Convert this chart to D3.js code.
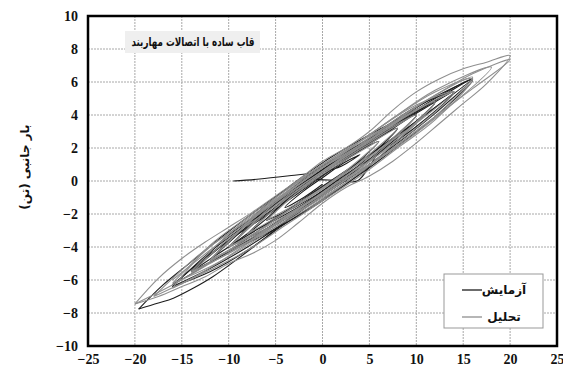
<!DOCTYPE html>
<html>
<head>
<meta charset="utf-8">
<script src="https://cdn.jsdelivr.net/npm/d3@7"></script>
<style>
  body { margin: 0; background: #fff; }
  #chart { width: 563px; height: 367px; }
</style>
</head>
<body>
<div id="chart"></div>
<script>
//Datos: desplazamiento (mm) vs carga lateral (ton)
const xTicks = [-25, -20, -15, -10, -5, 0, 5, 10, 15, 20, 25];
const yTicks = [-10, -8, -6, -4, -2, 0, 2, 4, 6, 8, 10];
const titleText = 'قاب ساده با اتصالات مهاربند';
const yLabel = 'بار جانبی (تن)';
const seriesNames = ['آزمایش', 'تحلیل'];

//Ensayo (negro), un array por ciclo
const testLoops = [
  [[-9.5, 0.0], [-6.7, 0.12], [-3, 0.35], [0, 0.55]],
  [[0, 0.55], [2, 0.9], [4, 1.6], [2, 1.0], [0, 0.2], [-2, -0.6], [-4, -1.6], [-2, -1.0], [0, -0.2]],
  [[-6, -2.4], [-3, -1.6], [0, -0.6], [3, 0.75], [6, 2.4], [3, 1.55], [0, 0.5], [-3, -0.75], [-6, -2.4]],
  [[-8, -3.2], [-4, -2.05], [0, -0.7], [4, 1.0], [8, 3.2], [4, 2.0], [0, 0.6], [-4, -1.1], [-8, -3.2]],
  [[-10, -4.0], [-6, -2.3], [-3, -0.6], [-2, 0.1], [0, 0.07], [2, 0.03], [3.7, 0.0], [6, 1.7], [10, 4.0], [5, 2.45], [0, 0.7], [-5, -1.4], [-10, -4.0]],
  [[-10, -4.0], [-5, -2.6], [0, -0.9], [5, 1.3], [10, 4.0], [5, 2.55], [0, 0.9], [-5, -1.25], [-10, -4.0]],
  [[-12, -4.8], [-6, -3.0], [0, -0.8], [6, 1.7], [12, 4.8], [6, 3.1], [0, 1.1], [-6, -1.45], [-12, -4.8]],
  [[-12, -4.8], [-6, -3.2], [0, -1.2], [6, 1.4], [12, 4.8], [6, 2.8], [0, 0.7], [-6, -1.75], [-12, -4.8]],
  [[-14, -5.5], [-10, -4.3], [-6, -2.9], [-2, -1.4], [2, 0.2], [6, 1.7], [10, 3.3], [14, 5.4], [10, 4.5], [6, 3.0], [2, 1.4], [-2, -0.1], [-6, -1.7], [-10, -3.3], [-14, -5.5]],
  [[-14, -5.5], [-10, -4.0], [-6, -2.6], [-2, -1.1], [2, 0.4], [6, 2.0], [10, 3.6], [14, 5.4], [10, 4.1], [6, 2.6], [2, 1.1], [-2, -0.4], [-6, -2.0], [-10, -3.6], [-14, -5.5]],
  [[-16, -6.4], [-12, -5.3], [-8, -4.0], [-4, -2.5], [0, -0.9], [4, 0.6], [8, 2.3], [12, 4.1], [16, 6.2], [12, 5.0], [8, 3.55], [4, 2.0], [0, 0.5], [-4, -1.0], [-8, -2.6], [-12, -4.3], [-16, -6.4]],
  [[-16, -6.3], [-11, -4.6], [-6, -2.7], [-1, -0.7], [4, 1.2], [9, 3.2], [16, 6.2], [9, 3.8], [4, 1.9], [-1, -0.1], [-6, -2.1], [-11, -4.0], [-16, -6.3]],
  [[-16, -6.4], [-12, -5.5], [-8, -4.2], [-4, -2.6], [0, -1.1], [4, 0.4], [8, 2.1], [12, 3.9], [16, 6.1], [12, 5.1], [8, 3.7], [4, 2.2], [0, 0.9], [-5, -0.95], [-8, -2.2], [-11, -3.5], [-14, -4.9], [-17, -6.3], [-19.6, -7.76]],
  [[-19.6, -7.76], [-17.5, -7.4], [-15.9, -7.1], [-13.8, -6.5], [-11.7, -5.8], [-9, -4.7], [-6, -3.4], [-3, -2.0], [0, -0.6]]
];

//Análisis (gris), un array por ciclo
const analysisLoops = [
  [[-6, -2.4], [-3, -1.45], [0, -0.4], [3, 0.85], [6, 2.4], [3, 1.45], [0, 0.4], [-3, -0.85], [-6, -2.4]],
  [[-8, -3.2], [-4, -1.9], [0, -0.5], [4, 1.15], [8, 3.2], [4, 1.9], [0, 0.5], [-4, -1.15], [-8, -3.2]],
  [[-10, -4.0], [-5, -2.45], [0, -0.7], [5, 1.4], [10, 4.0], [5, 2.35], [0, 0.6], [-5, -1.45], [-10, -4.0]],
  [[-10, -4.0], [-5, -2.6], [0, -0.9], [5, 1.25], [10, 4.0], [5, 2.5], [0, 0.8], [-5, -1.3], [-10, -4.0]],
  [[-12, -4.8], [-6, -2.95], [0, -0.9], [6, 1.6], [12, 4.8], [6, 2.95], [0, 0.9], [-6, -1.6], [-12, -4.8]],
  [[-12, -4.8], [-6, -3.1], [0, -1.1], [6, 1.45], [12, 4.8], [6, 3.05], [0, 1.0], [-6, -1.5], [-12, -4.8]],
  [[-14, -5.5], [-10, -4.4], [-6, -3.0], [-2, -1.5], [2, 0.1], [6, 1.6], [10, 3.2], [14, 5.4], [10, 4.6], [6, 3.2], [2, 1.6], [-2, 0.0], [-6, -1.5], [-10, -3.2], [-14, -5.5]],
  [[-14, -5.6], [-10, -4.2], [-6, -2.7], [-2, -1.2], [2, 0.3], [6, 1.9], [10, 3.5], [14, 5.4], [10, 4.3], [6, 2.8], [2, 1.3], [-2, -0.3], [-6, -1.9], [-10, -3.5], [-14, -5.6]],
  [[-16, -6.2], [-12, -5.2], [-8, -3.9], [-4, -2.4], [0, -1.0], [4, 0.5], [8, 2.2], [12, 3.9], [16, 6.3], [12, 5.2], [8, 3.7], [4, 2.1], [0, 0.8], [-4, -0.8], [-8, -2.4], [-12, -4.0], [-16, -6.2]],
  [[-16, -6.5], [-12, -5.4], [-8, -4.2], [-4, -2.7], [0, -1.2], [4, 0.3], [8, 2.0], [12, 3.7], [16, 6.2], [12, 5.4], [8, 4.0], [4, 2.4], [0, 1.0], [-4, -0.6], [-8, -2.2], [-12, -3.9], [-16, -6.5]],
  [[-18, -7.0], [-13, -5.6], [-8, -3.8], [-3, -1.9], [2, 0.0], [7, 1.7], [12, 3.8], [18, 6.9], [12, 5.5], [7, 3.6], [2, 1.6], [-3, -0.4], [-8, -2.4], [-13, -4.4], [-18, -7.0]],
  [[-20, -7.45], [-17.5, -7.0], [-15, -6.4], [-12.5, -5.8], [-10, -5.0], [-7.5, -4.4], [-5, -3.6], [-2.5, -2.5], [0, -1.35], [2.5, -0.4], [5, 0.3], [7.5, 1.2], [10, 2.3], [12.5, 3.5], [15, 4.7], [17.5, 5.9], [20, 7.6],
   [17.5, 7.2], [15, 6.8], [12.5, 6.2], [10, 5.4], [7.5, 4.3], [5, 3.0], [2.5, 2.0], [0, 1.2], [-2.5, 0.1], [-5, -0.9], [-7.5, -1.9], [-10, -2.8], [-12.5, -3.7], [-15, -4.7], [-17.5, -5.9], [-20, -7.45]],
  [[-20, -7.45], [-16, -6.3], [-12, -5.0], [-8, -3.7], [-4, -2.2], [0, -0.8], [4, 0.6], [8, 2.2], [12, 3.9], [16, 5.6], [20, 7.35], [16, 6.5], [12, 5.2], [8, 3.8], [4, 2.2], [0, 0.6], [-4, -0.9], [-8, -2.5], [-12, -4.2], [-16, -6.0]]
];

const COLOR_TEST = '#1c1c1c', COLOR_ANALYSIS = '#8f8f8f';

let margin = {top: 16, right: 6, bottom: 21, left: 88},
    width = 563 - margin.left - margin.right,
    height = 367 - margin.top - margin.bottom;

let svg = d3.select('#chart')
    .append('svg')
        .attr('width', 563)
        .attr('height', 367)
    .append('g')
        .attr('transform', 'translate(' + margin.left + ',' + margin.top + ')');

let x = d3.scaleLinear().domain([-25, 25]).range([0, width]);
let y = d3.scaleLinear().domain([-10, 10]).range([height, 0]);

//Rejilla
svg.append('g')
    .selectAll('line')
    .data(xTicks)
    .enter()
    .append('line')
    .attr('x1', d => x(d)).attr('x2', d => x(d))
    .attr('y1', 0).attr('y2', height)
    .attr('stroke', '#a8a8a8').attr('stroke-width', 1).attr('stroke-dasharray', '2,1');

svg.append('g')
    .selectAll('line')
    .data(yTicks)
    .enter()
    .append('line')
    .attr('y1', d => y(d)).attr('y2', d => y(d))
    .attr('x1', 0).attr('x2', width)
    .attr('stroke', '#a8a8a8').attr('stroke-width', 1).attr('stroke-dasharray', '2,1');

//Ejes
let xAxis = svg.append('g')
    .attr('transform', 'translate(0,' + height + ')')
    .call(d3.axisBottom(x).tickValues(xTicks).tickSize(0).tickPadding(18));
let yAxis = svg.append('g')
    .call(d3.axisLeft(y).tickValues(yTicks).tickSize(0).tickPadding(10));
[xAxis, yAxis].forEach(function(a) {
    a.select('.domain').remove();
    a.attr('font-family', null).attr('font-size', null);
    a.selectAll('text')
        .style('font-family', '"Liberation Serif", "Times New Roman", serif')
        .style('font-size', '14px')
        .style('font-weight', 'bold')
        .attr('fill', '#111');
});
xAxis.selectAll('text').attr('dy', 0);

//Curvas
let line = d3.line()
    .x(d => x(d[0]))
    .y(d => y(d[1]))
    .curve(d3.curveCatmullRom.alpha(0.5));

svg.append('g')
    .selectAll('path')
    .data(testLoops)
    .enter()
    .append('path')
    .attr('d', line)
    .attr('fill', 'none')
    .attr('stroke', COLOR_TEST)
    .attr('stroke-width', 1.1);

svg.append('g')
    .selectAll('path')
    .data(analysisLoops)
    .enter()
    .append('path')
    .attr('d', line)
    .attr('fill', 'none')
    .attr('stroke', COLOR_ANALYSIS)
    .attr('stroke-width', 1.1);

//Marco
svg.append('rect')
    .attr('x', 0).attr('y', 0)
    .attr('width', width).attr('height', height)
    .attr('fill', 'none')
    .attr('stroke', '#000')
    .attr('stroke-width', 2.5);

//Título
svg.append('rect')
    .attr('x', 37).attr('y', 15)
    .attr('width', 135).attr('height', 22)
    .attr('fill', '#efefef');
svg.append('text')
    .attr('x', 105).attr('y', 26)
    .attr('text-anchor', 'middle')
    .attr('dominant-baseline', 'central')
    .attr('textLength', 123)
    .attr('lengthAdjust', 'spacingAndGlyphs')
    .style('font-family', '"DejaVu Sans", sans-serif')
    .style('font-weight', 'bold')
    .style('font-size', '12px')
    .attr('fill', '#111')
    .text(titleText);

//Leyenda
let legend = svg.append('g').attr('transform', 'translate(356,258)');
legend.append('rect')
    .attr('width', 99).attr('height', 54)
    .attr('fill', '#fff')
    .attr('stroke', '#999').attr('stroke-width', 1);
[COLOR_TEST, COLOR_ANALYSIS].forEach(function(c, i) {
    let yy = 16 + i * 27;
    legend.append('line')
        .attr('x1', 18).attr('x2', 38)
        .attr('y1', yy).attr('y2', yy)
        .attr('stroke', c).attr('stroke-width', 1.3);
    legend.append('text')
        .attr('x', 60).attr('y', yy)
        .attr('text-anchor', 'middle')
        .attr('dominant-baseline', 'central')
        .style('font-family', '"DejaVu Sans", sans-serif')
        .style('font-weight', 'bold')
        .style('font-size', '12px')
        .attr('fill', '#111')
        .text(seriesNames[i]);
});

//Etiqueta eje Y
d3.select('#chart svg').append('text')
    .attr('transform', 'translate(25,167) rotate(-90)')
    .attr('text-anchor', 'middle')
    .attr('dominant-baseline', 'central')
    .style('font-family', '"DejaVu Sans", sans-serif')
    .style('font-weight', 'bold')
    .style('font-size', '12px')
    .attr('fill', '#111')
    .text(yLabel);
</script>
</body>
</html>
